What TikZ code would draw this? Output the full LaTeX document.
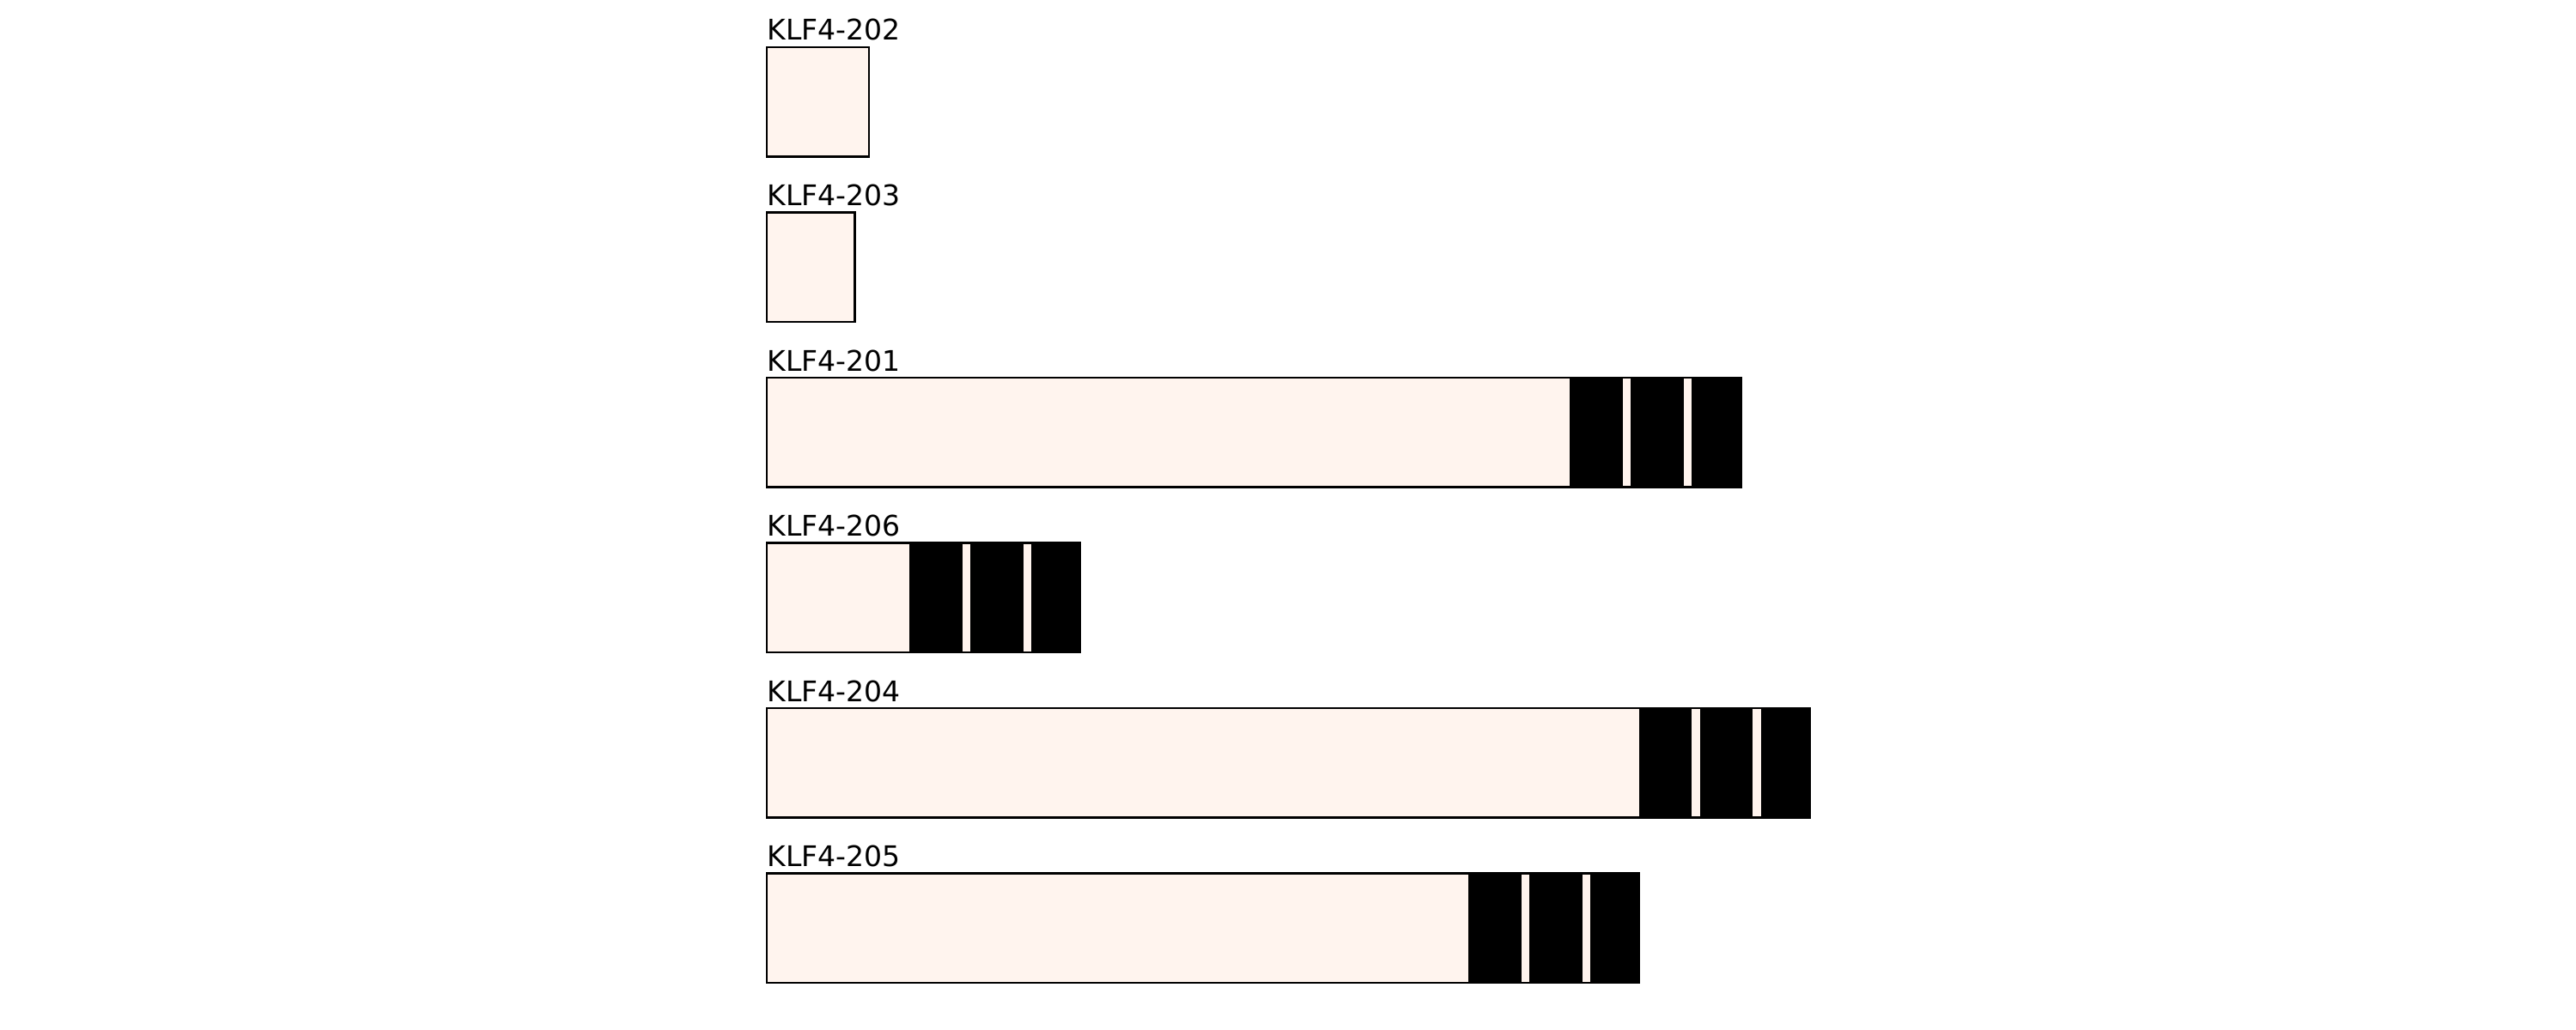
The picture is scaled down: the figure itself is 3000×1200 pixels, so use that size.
\documentclass[tikz,border=0pt]{standalone}
\usepackage{fontspec}
\setmainfont{DejaVu Sans}
\definecolor{utrfill}{HTML}{FFF4EE}
\tikzset{
  utr/.style={draw=black, fill=utrfill, line width=0.75pt},
  cds/.style={draw=black, fill=black, line width=0.75pt},
  lbl/.style={anchor=base west, inner sep=0pt, font=\fontsize{9.4pt}{11pt}\selectfont}
}
\begin{document}
\begin{tikzpicture}[x=0.01cm,y=-0.01cm]
\useasboundingbox (0,0) rectangle (3000,1200);
% KLF4-202
\node[lbl] (l202) at (893,47) {KLF4-202};
\draw[utr] (893,55) rectangle (1012,182.5);
% KLF4-203
\node[lbl] (l203) at (893,239.5) {KLF4-203};
\draw[utr] (893,247.5) rectangle (995.5,375);
% KLF4-201
\node[lbl] (l201) at (893,432) {KLF4-201};
\draw[utr] (893,440) rectangle (2028,567.5);
\draw[cds] (1829,440) rectangle (1889,567.5);
\draw[cds] (1900,440) rectangle (1960,567.5);
\draw[cds] (1971,440) rectangle (2028,567.5);
% KLF4-206
\node[lbl] (l206) at (893,624.5) {KLF4-206};
\draw[utr] (893,632.5) rectangle (1258,760);
\draw[cds] (1060,632.5) rectangle (1120,760);
\draw[cds] (1131,632.5) rectangle (1191,760);
\draw[cds] (1202,632.5) rectangle (1258,760);
% KLF4-204
\node[lbl] (l204) at (893,817) {KLF4-204};
\draw[utr] (893,825) rectangle (2108,952.5);
\draw[cds] (1910,825) rectangle (1969,952.5);
\draw[cds] (1981,825) rectangle (2040,952.5);
\draw[cds] (2052,825) rectangle (2108,952.5);
% KLF4-205
\node[lbl] (l205) at (893,1009.5) {KLF4-205};
\draw[utr] (893,1017.5) rectangle (1909,1145);
\draw[cds] (1711,1017.5) rectangle (1771,1145);
\draw[cds] (1782,1017.5) rectangle (1842,1145);
\draw[cds] (1853,1017.5) rectangle (1909,1145);
\end{tikzpicture}
\end{document}
